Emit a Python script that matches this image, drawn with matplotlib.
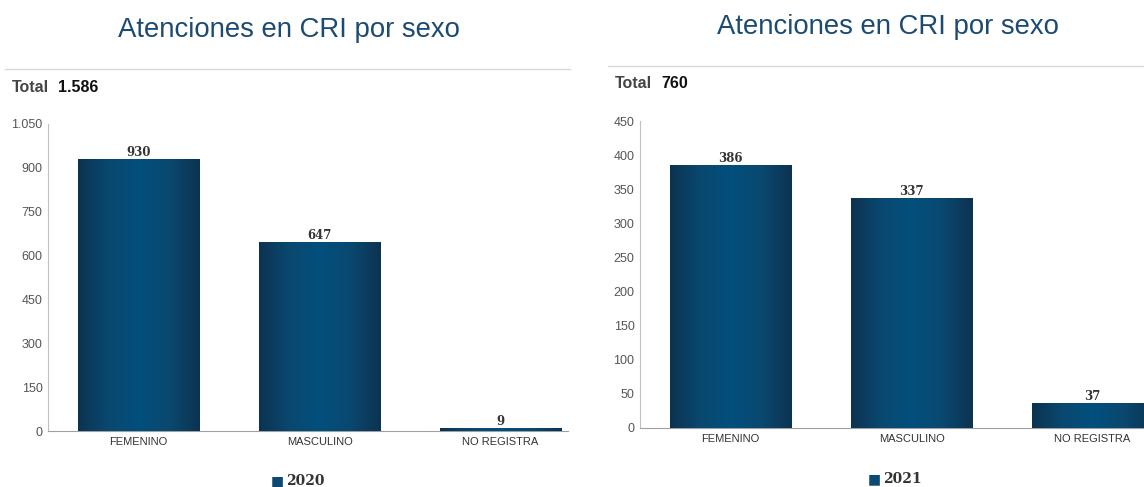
import matplotlib
matplotlib.use("Agg")
import matplotlib.pyplot as plt
import numpy as np
from matplotlib.colors import LinearSegmentedColormap
from matplotlib.ticker import FuncFormatter

categories = ["FEMENINO", "MASCULINO", "NO REGISTRA"]
values_2020 = [930, 647, 9]
values_2021 = [386, 337, 37]
yticks_2020 = [0, 150, 300, 450, 600, 750, 900, 1050]
yticks_2021 = [0, 50, 100, 150, 200, 250, 300, 350, 400, 450]
title = "Atenciones en CRI por sexo"
total_2020 = "1.586"
total_2021 = "760"

W, H = 1144, 487
fig = plt.figure(figsize=(W / 100, H / 100), dpi=100)
plt.rcParams['font.family'] = ['Liberation Sans', 'DejaVu Sans']

cmap = LinearSegmentedColormap.from_list("g", ["#0c3350", "#0a4870", "#024f7d", "#0a4870", "#0c3350"])
grad = np.linspace(0, 1, 256).reshape(1, -1)


def fmt(v, pos):
    return f"{int(v):,}".replace(",", ".")


def panel(left, right, top, bottom, vals, yticks, year, total, title_x, title_y,
          line_x0, line_x1, line_y, total_x, total_y, leg_x, leg_y):
    ax = fig.add_axes([left / W, (H - bottom) / H, (right - left) / W, (bottom - top) / H])
    x = np.arange(len(categories))
    slot = 181.0
    width_units = (right - left) / slot
    bars = ax.bar(x, vals, width=122 / 181, color="#0a4a73", zorder=2)
    for b in bars:
        x0, w, h = b.get_x(), b.get_width(), b.get_height()
        im = ax.imshow(grad, cmap=cmap, aspect="auto", extent=[x0, x0 + w, 0, h], zorder=3)
        im.set_clip_path(b)
        ax.text(x0 + w / 2, h, f"{h:g}", ha="center", va="bottom", fontsize=8.5,
                fontweight="bold", family="DejaVu Serif", color="#333333", zorder=4)
    ax.set_xlim(-0.5, -0.5 + width_units)
    ax.set_ylim(0, yticks[-1])
    ax.set_yticks(yticks)
    ax.yaxis.set_major_formatter(FuncFormatter(fmt))
    ax.set_xticks(x)
    ax.set_xticklabels(categories)
    for s in ["top", "right"]:
        ax.spines[s].set_visible(False)
    ax.spines["left"].set_color("#c0c0c0")
    ax.spines["bottom"].set_color("#a0a0a0")
    ax.tick_params(axis="y", length=0, pad=4, labelsize=9, labelcolor="#555555")
    ax.tick_params(axis="x", length=0, pad=4, labelsize=8, labelcolor="#333333")
    fig.text(title_x / W, 1 - title_y / H, title, ha="center", va="center",
             fontsize=19.8, color="#1b4a72")
    fig.add_artist(plt.Line2D([line_x0 / W, line_x1 / W], [1 - line_y / H, 1 - line_y / H],
                              color="#d8d8d8", lw=1))
    fig.text(total_x / W, 1 - total_y / H, "Total", ha="left", va="center",
             fontsize=11.5, fontweight="bold", color="#444444")
    fig.text((total_x + 46) / W, 1 - total_y / H, total, ha="left", va="center",
             fontsize=11.5, fontweight="bold", color="#111111")
    fig.text(leg_x / W, 1 - leg_y / H, "\u25A0", ha="right", va="center",
             fontsize=10, color="#0a4a73", family="DejaVu Sans")
    fig.text((leg_x + 2) / W, 1 - leg_y / H, year, ha="left", va="center",
             fontsize=10, fontweight="bold", family="DejaVu Serif", color="#333333")
    return ax


panel(48, 568, 124, 431, values_2020, yticks_2020, "2020", total_2020, 289, 30,
      5, 570, 69, 12, 87, 284, 481)
panel(640, 1144, 121, 428, values_2021, yticks_2021, "2021", total_2021, 888, 27,
      608, 1144, 66, 615, 84, 881, 479)

fig.savefig("out.png", dpi=100)
